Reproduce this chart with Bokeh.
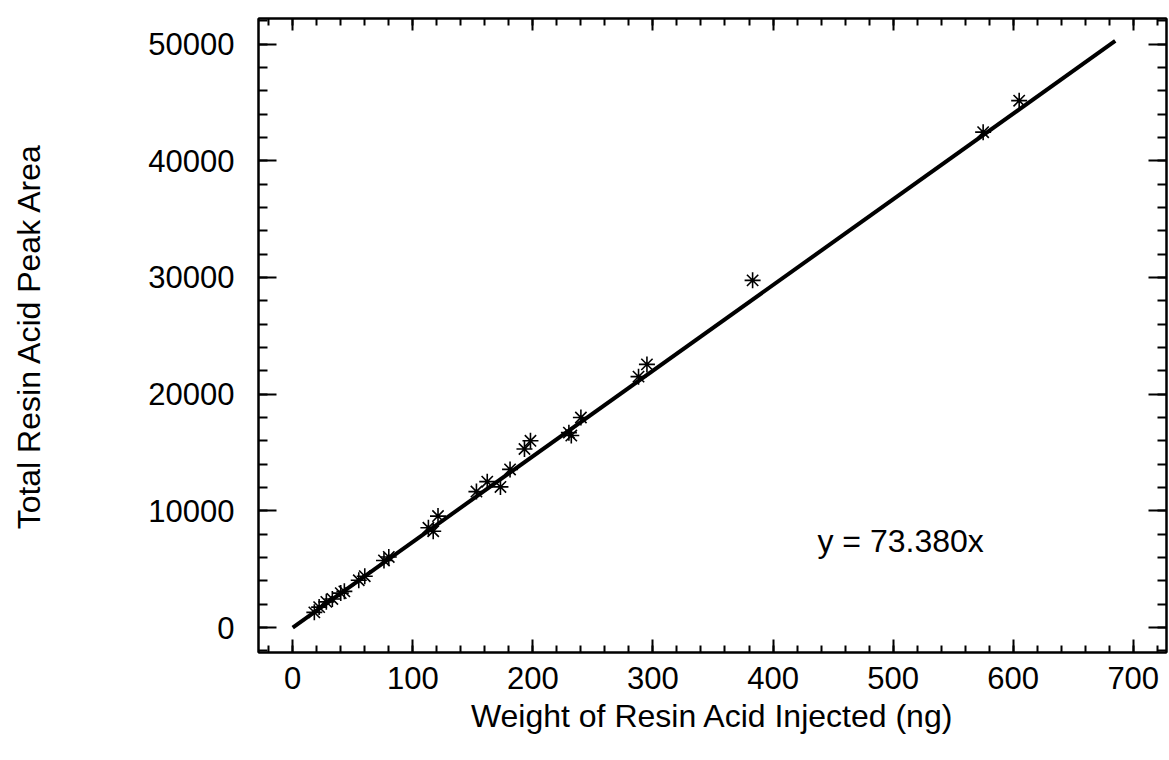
from bokeh.plotting import figure
from bokeh.models import (LinearAxis, Range1d, SingleIntervalTicker, CustomJSTickFormatter, Label)
from bokeh.embed import file_html
from bokeh.resources import INLINE

# Data
weight_ng = [18, 22, 28, 33, 40, 43, 55, 60, 76, 80, 113, 117, 121,
             153, 162, 173, 181, 193, 198, 230, 232, 240, 288, 295, 383, 575, 605]
peak_area = [1300, 1750, 2200, 2450, 2950, 3100, 4050, 4400, 5750, 6050, 8550, 8250, 9550,
             11650, 12500, 12050, 13550, 15300, 16000, 16700, 16450, 18000, 21500, 22550, 29750, 42450, 45150]
slope = 73.380
fit_x = [0, 685]
fit_y = [slope * v for v in fit_x]
eq_text = "y = 73.380x"
x_label = "Weight of Resin Acid Injected (ng)"
y_label = "Total Resin Acid Peak Area"

FONT = "Liberation Sans"

p = figure(width=1169, height=760, output_backend="svg", toolbar_location=None,
           x_range=Range1d(-28.5, 727.7), y_range=Range1d(-2140, 52190),
           x_axis_location=None, y_axis_location=None,
           min_border_left=258, min_border_right=3, min_border_top=18, min_border_bottom=108)
p.background_fill_color = "white"
p.border_fill_color = "white"
p.outline_line_color = "black"
p.outline_line_width = 2
p.xgrid.visible = False
p.ygrid.visible = False

def style(ax, labels=True, major_in=13, minor_in=7):
    ax.axis_line_color = "black"
    ax.axis_line_width = 2
    ax.major_tick_in = major_in
    ax.major_tick_out = 0
    ax.minor_tick_in = minor_in
    ax.minor_tick_out = 0
    ax.major_tick_line_color = "black"
    ax.minor_tick_line_color = "black"
    ax.major_tick_line_width = 2
    ax.minor_tick_line_width = 2
    ax.major_label_text_font = FONT
    ax.major_label_text_font_size = "31px"
    ax.major_label_text_color = "black"
    ax.axis_label_text_font = FONT
    ax.axis_label_text_font_size = "32px"
    ax.axis_label_text_font_style = "normal"
    ax.axis_label_text_color = "black"
    if not labels:
        ax.formatter = CustomJSTickFormatter(code="return ''")

xb = LinearAxis(ticker=SingleIntervalTicker(interval=100, num_minor_ticks=5), axis_label=x_label)
style(xb, major_in=13, minor_in=7)
xb.major_label_standoff = 14
xb.axis_label_standoff = 6
p.add_layout(xb, "below")

xt = LinearAxis(ticker=SingleIntervalTicker(interval=100, num_minor_ticks=5))
style(xt, labels=False, major_in=12, minor_in=7)
p.add_layout(xt, "above")

yl = LinearAxis(ticker=SingleIntervalTicker(interval=10000, num_minor_ticks=5), axis_label=y_label)
style(yl, major_in=18, minor_in=9)
yl.major_label_standoff = 24
yl.axis_label_standoff = 98
p.add_layout(yl, "left")

yr = LinearAxis(ticker=SingleIntervalTicker(interval=10000, num_minor_ticks=5))
style(yr, labels=False, major_in=18, minor_in=9)
p.add_layout(yr, "right")

p.line(fit_x, fit_y, line_color="black", line_width=4)
p.scatter(weight_ng, peak_area, marker="asterisk", size=16, line_color="black", line_width=1.6)

p.add_layout(Label(x=437, y=7450, text=eq_text, text_font=FONT, text_font_size="32px",
                   text_color="black", text_baseline="middle", text_align="left"))

open("out.html", "w").write(file_html(p, INLINE))
